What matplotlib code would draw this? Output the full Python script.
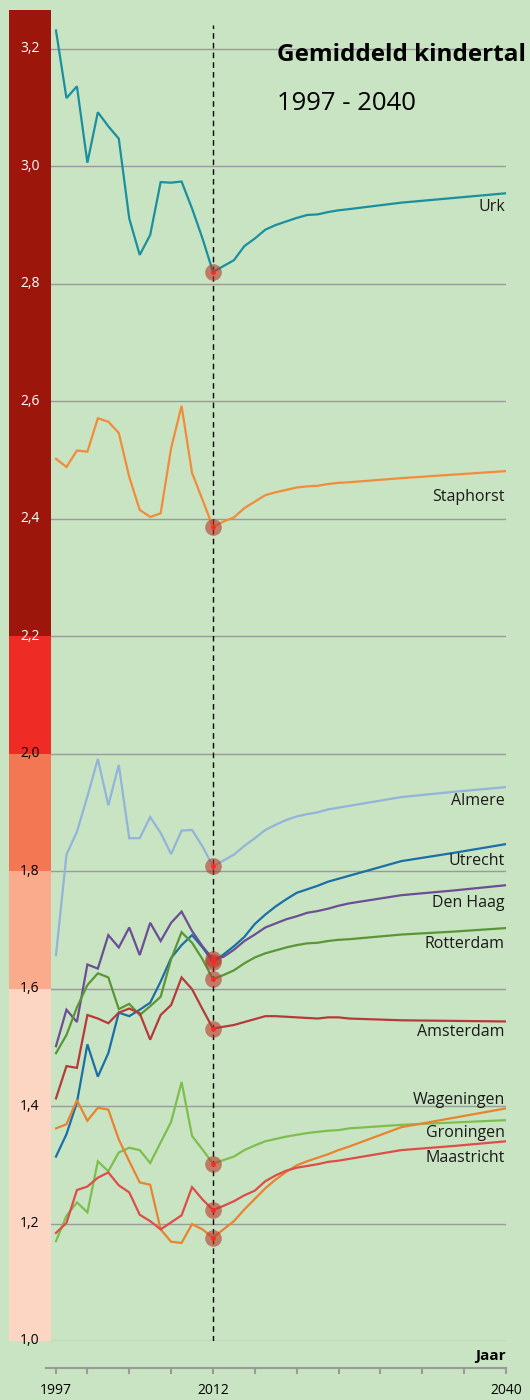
import matplotlib.pyplot as plt

years = [1997, 1998, 1999, 2000, 2001, 2002, 2003, 2004, 2005, 2006, 2007, 2008,
         2009, 2010, 2011, 2012, 2013, 2014, 2015, 2016, 2017, 2018, 2019, 2020,
         2021, 2022, 2023, 2024, 2025, 2030, 2035, 2040]

urk = [3.231, 3.116, 3.136, 3.006, 3.092, 3.068, 3.047, 2.911, 2.849, 2.883, 2.973, 2.972,
       2.974, 2.928, 2.877, 2.820, 2.830, 2.840, 2.864, 2.877, 2.892, 2.900, 2.906, 2.912,
       2.917, 2.918, 2.922, 2.925, 2.927, 2.938, 2.946, 2.954]
staphorst = [2.502, 2.488, 2.516, 2.514, 2.571, 2.565, 2.546, 2.471, 2.415, 2.403, 2.409, 2.520,
             2.592, 2.478, 2.432, 2.386, 2.395, 2.402, 2.418, 2.429, 2.440, 2.445, 2.449, 2.453,
             2.455, 2.456, 2.459, 2.461, 2.462, 2.469, 2.475, 2.481]
almere = [1.657, 1.828, 1.867, 1.927, 1.991, 1.912, 1.981, 1.856, 1.856, 1.892, 1.865, 1.829,
          1.869, 1.870, 1.842, 1.808, 1.818, 1.828, 1.843, 1.856, 1.870, 1.879, 1.887, 1.893,
          1.897, 1.900, 1.905, 1.908, 1.911, 1.926, 1.935, 1.943]
utrecht = [1.314, 1.352, 1.406, 1.505, 1.450, 1.490, 1.559, 1.553, 1.564, 1.576, 1.612, 1.652,
           1.674, 1.691, 1.670, 1.645, 1.658, 1.672, 1.688, 1.710, 1.726, 1.740, 1.752, 1.763,
           1.769, 1.775, 1.782, 1.787, 1.792, 1.817, 1.831, 1.846]
den_haag = [1.502, 1.564, 1.543, 1.641, 1.634, 1.691, 1.670, 1.704, 1.657, 1.712, 1.681, 1.712,
            1.731, 1.698, 1.672, 1.650, 1.654, 1.666, 1.681, 1.692, 1.704, 1.711, 1.718, 1.723,
            1.729, 1.732, 1.736, 1.741, 1.745, 1.759, 1.767, 1.776]
rotterdam = [1.490, 1.521, 1.568, 1.606, 1.626, 1.619, 1.565, 1.574, 1.555, 1.570, 1.586, 1.650,
             1.696, 1.678, 1.650, 1.616, 1.623, 1.631, 1.643, 1.653, 1.660, 1.665, 1.670, 1.674,
             1.677, 1.678, 1.681, 1.683, 1.684, 1.692, 1.697, 1.703]
amsterdam = [1.413, 1.468, 1.465, 1.555, 1.549, 1.541, 1.559, 1.566, 1.558, 1.513, 1.555, 1.572,
             1.619, 1.599, 1.565, 1.532, 1.535, 1.538, 1.543, 1.548, 1.553, 1.553, 1.552, 1.551,
             1.550, 1.549, 1.551, 1.551, 1.549, 1.546, 1.545, 1.544]
wageningen = [1.170, 1.213, 1.236, 1.219, 1.306, 1.289, 1.321, 1.329, 1.325, 1.303, 1.338, 1.373,
              1.441, 1.349, 1.326, 1.302, 1.308, 1.314, 1.325, 1.333, 1.340, 1.344, 1.348, 1.351,
              1.354, 1.356, 1.358, 1.359, 1.362, 1.368, 1.372, 1.376]
groningen = [1.362, 1.369, 1.410, 1.375, 1.397, 1.394, 1.343, 1.306, 1.270, 1.266, 1.190, 1.169,
             1.167, 1.199, 1.190, 1.176, 1.190, 1.204, 1.224, 1.242, 1.260, 1.275, 1.288, 1.299,
             1.306, 1.312, 1.318, 1.325, 1.331, 1.364, 1.380, 1.396]
maastricht = [1.184, 1.201, 1.257, 1.263, 1.278, 1.287, 1.265, 1.253, 1.215, 1.204, 1.190, 1.202,
              1.214, 1.262, 1.241, 1.223, 1.230, 1.238, 1.248, 1.256, 1.272, 1.282, 1.290, 1.295,
              1.298, 1.301, 1.305, 1.307, 1.310, 1.325, 1.332, 1.340]

series = [
    ('Urk', urk, '#1a8fa0', 2.930),
    ('Staphorst', staphorst, '#f28c3a', 2.437),
    ('Almere', almere, '#93b4da', 1.919),
    ('Utrecht', utrecht, '#1b6ea6', 1.817),
    ('Den Haag', den_haag, '#6b4e94', 1.746),
    ('Rotterdam', rotterdam, '#5b9636', 1.676),
    ('Amsterdam', amsterdam, '#b73a3a', 1.526),
    ('Wageningen', wageningen, '#7dbf4f', 1.410),
    ('Groningen', groningen, '#ea8330', 1.354),
    ('Maastricht', maastricht, '#de4d48', 1.311),
]

bands = [(1.0, 1.6, '#fcd6c3'), (1.6, 1.8, '#f9ab8b'), (1.8, 2.0, '#f37753'),
         (2.0, 2.2, '#ee2b24'), (2.2, 3.3, '#9c160c')]
yticks = [1.0, 1.2, 1.4, 1.6, 1.8, 2.0, 2.2, 2.4, 2.6, 2.8, 3.0, 3.2]

plt.rcParams['font.family'] = ['Open Sans', 'DejaVu Sans']
bg = '#c9e4c2'
W, H = 530, 1400
fig = plt.figure(figsize=(5.3, 14), dpi=100, facecolor=bg)

ymin, ymax = 1.0, 3.266
ax = fig.add_axes([46 / W, 59 / H, 460 / W, 1331 / H])
ax.set_facecolor(bg)
ax.set_xlim(1996.045, 2040)
ax.set_ylim(ymin, ymax)
for s in ['top', 'right', 'left']:
    ax.spines[s].set_visible(False)
# spine 27 px below the plot area (72/100 pt per px)
ax.spines['bottom'].set_position(('outward', 27 * 0.72))
ax.spines['bottom'].set_color('#9a9a9a')
ax.spines['bottom'].set_linewidth(1.5)
ax.set_yticks([])
ax.set_xticks([1997, 2000, 2004, 2008, 2012, 2016, 2020, 2024, 2028, 2032, 2036, 2040])
ax.set_xticklabels(['1997', '', '', '', '2012', '', '', '', '', '', '', '2040'])
ax.tick_params(axis='x', length=4.5, width=1.5, color='#9a9a9a', labelsize=10, pad=6)

for v in yticks:
    ax.axhline(v, color='#9a9a9a', lw=1.0, xmax=459 / 460, zorder=1)

ax.plot([2012, 2012], [1.0, 3.24], color='black', lw=1, ls=(0, (4, 3)), zorder=2)

for name, vals, col, ly in series:
    ax.plot(years, vals, color=col, lw=1.6, zorder=3, solid_joinstyle='miter')
    i = years.index(2012)
    ax.plot(2012, vals[i], 'o', ms=12, color='#b8372c', alpha=0.6, mec='none', zorder=4)
    ax.plot(2012, vals[i], 'o', ms=3.5, color='#ff2a1f', mec='none', zorder=5)
    ax.text(2039.9, ly, name, ha='right', va='center', fontsize=11.5, color='#1a1a1a', zorder=6)

ax.text(1.0, -0.006, 'Jaar', transform=ax.transAxes, ha='right', va='top',
        fontsize=11, fontweight='bold')

cb = fig.add_axes([9 / W, 59 / H, 42 / W, 1331 / H])
cb.set_xlim(0, 1)
cb.set_ylim(ymin, ymax)
cb.axis('off')
for lo, hi, col in bands:
    cb.axhspan(lo, hi, color=col, lw=0)
for v in yticks:
    c = 'white' if v >= 2.2 else 'black'
    cb.text(0.5, v, ('%.1f' % v).replace('.', ','), ha='center', va='center',
            fontsize=10, color=c, clip_on=False)

fig.text(277 / W, 1 - 55 / H, 'Gemiddeld kindertal', fontsize=17.5, fontweight='bold',
         va='center', ha='left')
fig.text(277 / W, 1 - 103 / H, '1997 - 2040', fontsize=18.5, va='center', ha='left')

fig.savefig('out.png', dpi=100, facecolor=bg)
